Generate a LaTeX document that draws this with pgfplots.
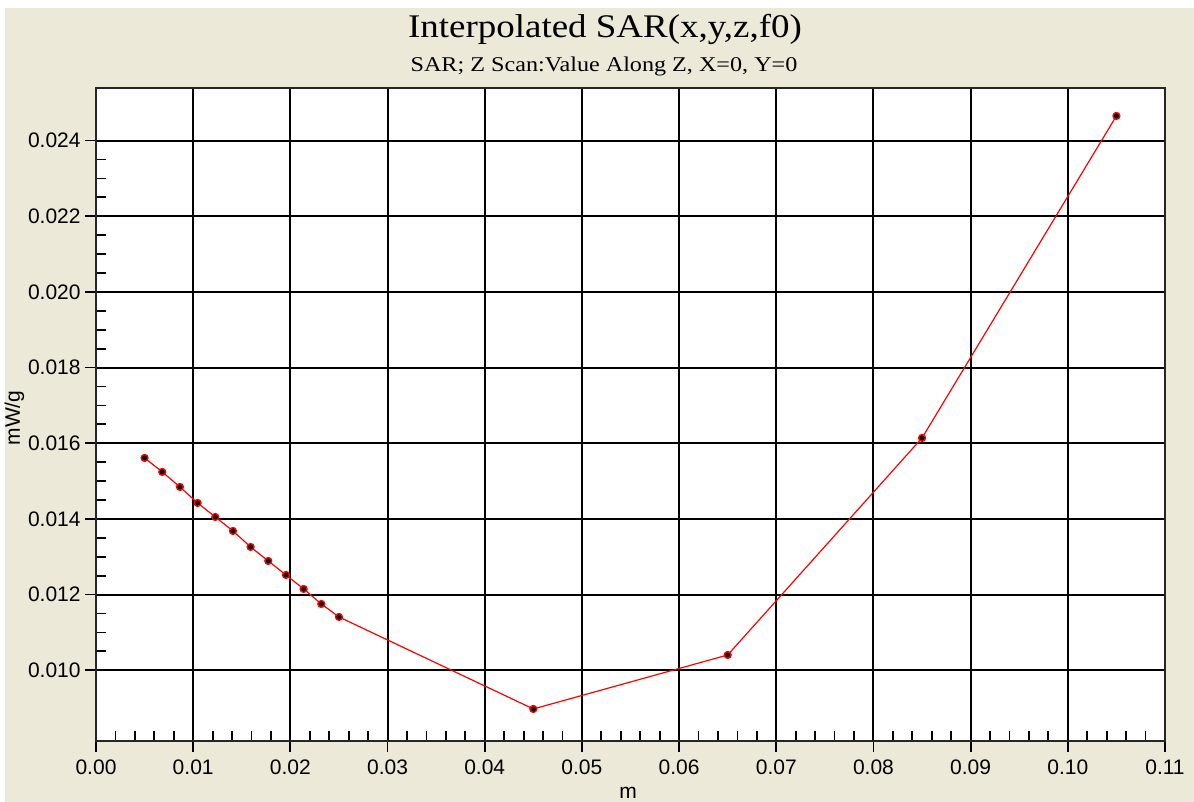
\documentclass[border=0pt]{standalone}
\usepackage{fontspec}
\setmainfont{Liberation Serif}
\setsansfont{Liberation Sans}
\newfontfamily\titlefont[FakeStretch=1.12]{Liberation Serif}
\newfontfamily\subfont[FakeStretch=1.15]{Liberation Serif}
\usepackage{pgfplots}
\pgfplotsset{compat=1.18}
\definecolor{bgbeige}{RGB}{236,233,216}
\begin{document}
\begin{tikzpicture}
\useasboundingbox (-48pt,-30.5pt) rectangle (549pt,370.5pt);
\fill[white] (-48pt,-30.5pt) rectangle (549pt,370.5pt);
\fill[bgbeige] (-45.5pt,-30.5pt) rectangle (549pt,366.5pt);
\begin{axis}[
  at={(0,0)}, anchor=south west,
  scale only axis,
  width=534.5pt, height=326.5pt,
  xmin=0, xmax=0.11, ymin=0.00813, ymax=0.02539,
  xtick={0,0.01,...,0.11},
  ytick={0.010,0.012,...,0.0241},
  minor x tick num=4,
  minor y tick num=3,
  tick pos=left,
  tick align=inside,
  major tick length=-5.5pt,
  minor tick length=5pt,
  tick style={black, line width=0.9pt},
  grid=major,
  major grid style={black, line width=1pt},
  axis line style={black!85, line width=1pt},
  axis background/.style={fill=white},
  scaled ticks=false,
  /pgf/number format/assume math mode=true,
  tick label style={font=\fontsize{10.5}{12}\selectfont\sffamily, inner sep=0pt},
  xticklabel style={anchor=north, yshift=-9pt, /pgf/number format/.cd, fixed, fixed zerofill, precision=2},
  yticklabel style={anchor=east, xshift=-7.5pt, /pgf/number format/.cd, fixed, fixed zerofill, precision=3},
  clip=false,
]
\addplot[red, line width=0.6pt, mark=*, mark size=1.7pt,
  mark options={fill=black, draw=red, line width=0.7pt}]
  coordinates {
  (0.005000,0.015612)
  (0.006818,0.015242)
  (0.008636,0.014845)
  (0.010455,0.014422)
  (0.012273,0.014052)
  (0.014091,0.013682)
  (0.015909,0.013259)
  (0.017727,0.012889)
  (0.019545,0.012519)
  (0.021364,0.012149)
  (0.023182,0.011753)
  (0.025000,0.011409)
  (0.045,0.008977)
  (0.065,0.010404)
  (0.085,0.016141)
  (0.105,0.024652)
  };
\end{axis}
\node[anchor=base, inner sep=0pt, font=\fontsize{16.5}{18}\titlefont] at (254.5pt,351.5pt) {Interpolated SAR(x,y,z,f0)};
\node[anchor=base, inner sep=0pt, font=\fontsize{10.5}{12}\subfont] at (254pt,334.5pt) {SAR; Z Scan:Value Along Z, X=0, Y=0};
\node[anchor=base, inner sep=0pt, rotate=90, font=\fontsize{10.5}{12}\selectfont\sffamily] at (-38pt,161.5pt) {mW/g};
\node[anchor=base, inner sep=0pt, font=\fontsize{10.5}{12}\selectfont\sffamily] at (266pt,-29pt) {m};
\end{tikzpicture}
\end{document}
